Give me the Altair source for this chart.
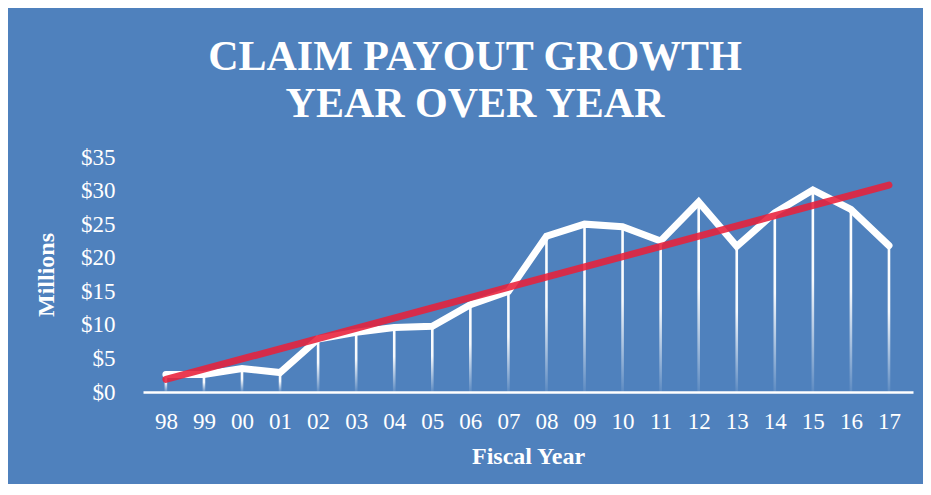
import json
import altair as alt
import pandas as pd

# ---- data ----
years = ["98", "99", "00", "01", "02", "03", "04", "05", "06", "07",
         "08", "09", "10", "11", "12", "13", "14", "15", "16", "17"]
payout = [2.6, 2.6, 3.5, 2.9, 7.9, 8.9, 9.6, 9.8, 13.0, 15.0,
          23.2, 25.0, 24.6, 22.5, 28.3, 21.7, 26.7, 30.1, 27.2, 21.8]
y_ticks = [0, 5, 10, 15, 20, 25, 30, 35]

title_lines = ["CLAIM PAYOUT GROWTH", "YEAR OVER YEAR"]

BG = "#4F81BD"
RED = "#E8203A"
SERIF = "Liberation Serif"

idx = list(range(len(years)))
df = pd.DataFrame({"idx": idx, "year": years, "value": payout})

label_expr = json.dumps(years) + "[datum.value]"

x_enc = alt.X(
    "idx:Q",
    scale=alt.Scale(domain=[-0.47, 19.5], nice=False, zero=False),
    axis=alt.Axis(
        values=idx,
        labelExpr=label_expr,
        title="Fiscal Year",
        grid=False,
        ticks=False,
        tickSize=0,
        domainColor="white",
        domainWidth=2.5,
        labelColor="white",
        labelFont=SERIF,
        labelFontSize=23,
        labelPadding=18,
        labelFlush=False,
        labelOverlap=False,
        titleColor="white",
        titleFont=SERIF,
        titleFontSize=24,
        titleFontWeight="bold",
        titlePadding=11,
    ),
)

y_enc = alt.Y(
    "value:Q",
    scale=alt.Scale(domain=[0, 35], nice=False),
    axis=alt.Axis(
        values=y_ticks,
        labelExpr="'$' + datum.value",
        title="Millions",
        grid=False,
        ticks=False,
        tickSize=0,
        domain=False,
        labelColor="white",
        labelFont=SERIF,
        labelFontSize=23,
        labelPadding=28,
        titleColor="white",
        titleFont=SERIF,
        titleFontSize=24,
        titleFontWeight="bold",
        titlePadding=22,
    ),
)

gradient = alt.LinearGradient(
    gradient="linear",
    stops=[
        alt.GradientStop(offset=0, color="rgba(255,255,255,1)"),
        alt.GradientStop(offset=0.45, color="rgba(255,255,255,0.95)"),
        alt.GradientStop(offset=1, color="rgba(255,255,255,0.08)"),
    ],
    x1=0, x2=0, y1=0, y2=1,
)

base = alt.Chart(df)

drops = base.mark_bar(size=2.6, color=gradient).encode(x=x_enc, y=y_enc)

line = base.mark_line(color="white", strokeWidth=7, strokeCap="round").encode(
    x=x_enc, y=y_enc
)

trend = (
    base.transform_regression("idx", "value", method="linear")
    .mark_line(color=RED, strokeWidth=7, strokeCap="round", opacity=0.88)
    .encode(x=x_enc, y=y_enc)
)

chart = (
    alt.layer(drops, line, trend)
    .properties(
        width=770,
        height=235,
        autosize=alt.AutoSizeParams(type="none"),
        padding={"left": 135, "top": 149, "right": 10, "bottom": 92},
        background=BG,
        title=alt.TitleParams(
            text=title_lines,
            color="white",
            font=SERIF,
            fontSize=42,
            fontWeight="bold",
            lineHeight=47,
            anchor="middle",
            dx=-53,
            offset=20,
        ),
    )
    .configure_view(stroke=None)
)

chart.save("out.html", embed_options={"renderer": "svg", "actions": False})
